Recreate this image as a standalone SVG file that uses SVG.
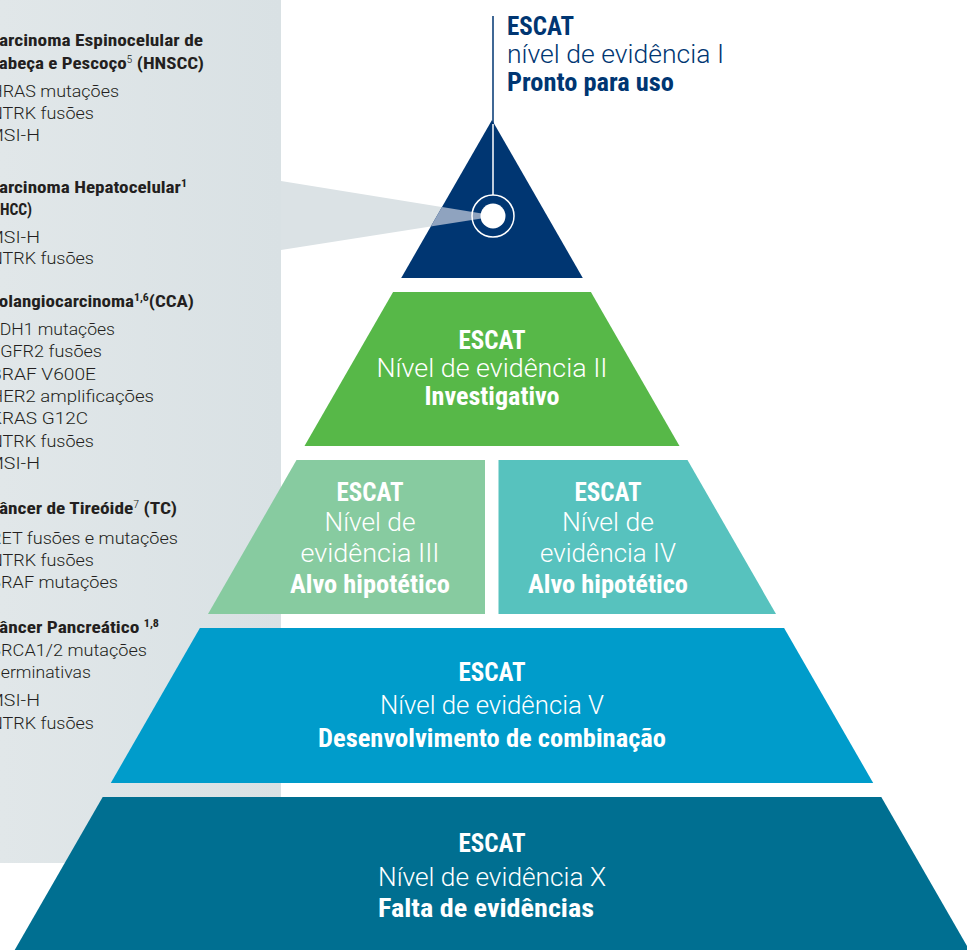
<svg xmlns="http://www.w3.org/2000/svg" width="967" height="950" viewBox="0 0 967 950">
  <defs>
    <style>
      text { font-family: "Roboto Condensed", "Liberation Sans Narrow", "DejaVu Sans Condensed", "Open Sans", sans-serif; font-stretch: condensed; }
      .side { font-family: Roboto, "Liberation Sans", sans-serif; font-stretch: normal; font-size: 17px; font-weight: 300; fill: #231f20; }
      .side-h { font-size: 16px; font-weight: 700; fill: #231f20; }
      .sup { font-size: 10px; }
      .lbl { fill: #ffffff; text-anchor: middle; font-size: 25px; font-weight: 700; }
      .top { fill: #003672; font-size: 25px; font-weight: 700; }
      .thin { font-family: Roboto, "Liberation Sans", sans-serif; font-stretch: normal; font-weight: 300; }
    </style>
    <linearGradient id="panelFill" x1="0" y1="0" x2="1" y2="0">
      <stop offset="0" stop-color="#e1e7e9"/>
      <stop offset="1" stop-color="#d9e1e4"/>
    </linearGradient>
    <clipPath id="apexClip">
      <polygon points="492,120 582.8,278 401.2,278"/>
    </clipPath>
  </defs>

  <!-- side panel with tumour list -->
  <g id="panel">
    <rect x="0" y="0" width="281" height="863" fill="url(#panelFill)"/>
    <g id="hnscc">
      <text class="side-h" x="-12" y="46" textLength="215" lengthAdjust="spacingAndGlyphs">Carcinoma Espinocelular de</text>
      <text class="side-h" x="-12" y="69" textLength="216" lengthAdjust="spacingAndGlyphs">Cabeça e Pescoço<tspan class="sup" font-weight="300" dy="-6">5</tspan><tspan dy="6"> (HNSCC)</tspan></text>
      <text class="side" x="-10" y="97" textLength="129" lengthAdjust="spacingAndGlyphs">HRAS mutações</text>
      <text class="side" x="-10" y="119" textLength="104" lengthAdjust="spacingAndGlyphs">NTRK fusões</text>
      <text class="side" x="-13" y="141" textLength="53" lengthAdjust="spacingAndGlyphs">MSI-H</text>
    </g>
    <g id="hcc">
      <text class="side-h" x="-12" y="193" textLength="199" lengthAdjust="spacingAndGlyphs">Carcinoma Hepatocelular<tspan class="sup" dy="-6">1</tspan></text>
      <text class="side-h" x="-5" y="215" textLength="37" lengthAdjust="spacingAndGlyphs">(HCC)</text>
      <text class="side" x="-13" y="243" textLength="53" lengthAdjust="spacingAndGlyphs">MSI-H</text>
      <text class="side" x="-10" y="264" textLength="104" lengthAdjust="spacingAndGlyphs">NTRK fusões</text>
    </g>
    <g id="cca">
      <text class="side-h" x="-12" y="307" textLength="206" lengthAdjust="spacingAndGlyphs">Colangiocarcinoma<tspan class="sup" dy="-6">1,6</tspan><tspan dy="6">(CCA)</tspan></text>
      <text class="side" x="-5" y="335" textLength="120" lengthAdjust="spacingAndGlyphs">IDH1 mutações</text>
      <text class="side" x="-10" y="357" textLength="112" lengthAdjust="spacingAndGlyphs">FGFR2 fusões</text>
      <text class="side" x="-10" y="380" textLength="106" lengthAdjust="spacingAndGlyphs">BRAF V600E</text>
      <text class="side" x="-10" y="402" textLength="164" lengthAdjust="spacingAndGlyphs">HER2 amplificações</text>
      <text class="side" x="-10" y="424" textLength="98" lengthAdjust="spacingAndGlyphs">KRAS G12C</text>
      <text class="side" x="-10" y="447" textLength="104" lengthAdjust="spacingAndGlyphs">NTRK fusões</text>
      <text class="side" x="-13" y="469" textLength="53" lengthAdjust="spacingAndGlyphs">MSI-H</text>
    </g>
    <g id="tc">
      <text class="side-h" x="-12" y="514" textLength="189" lengthAdjust="spacingAndGlyphs">Câncer de Tireóide<tspan class="sup" font-weight="300" dy="-6">7</tspan><tspan dy="6"> (TC)</tspan></text>
      <text class="side" x="-10" y="544" textLength="188" lengthAdjust="spacingAndGlyphs">RET fusões e mutações</text>
      <text class="side" x="-10" y="566" textLength="104" lengthAdjust="spacingAndGlyphs">NTRK fusões</text>
      <text class="side" x="-10" y="588" textLength="128" lengthAdjust="spacingAndGlyphs">BRAF mutações</text>
    </g>
    <g id="pc">
      <text class="side-h" x="-12" y="633" textLength="171" lengthAdjust="spacingAndGlyphs">Câncer Pancreático <tspan class="sup" dy="-6">1,8</tspan></text>
      <text class="side" x="-10" y="656" textLength="157" lengthAdjust="spacingAndGlyphs">BRCA1/2 mutações</text>
      <text class="side" x="-9" y="678" textLength="100" lengthAdjust="spacingAndGlyphs">germinativas</text>
      <text class="side" x="-13" y="706" textLength="53" lengthAdjust="spacingAndGlyphs">MSI-H</text>
      <text class="side" x="-10" y="729" textLength="104" lengthAdjust="spacingAndGlyphs">NTRK fusões</text>
    </g>
  </g>

  <!-- callout wedge behind the apex -->
  <polygon points="281,181 491,215 491,217 281,250" fill="#dbe2e5"/>

  <!-- pyramid levels -->
  <g id="level-1">
    <polygon points="492,120 582.8,278 401.2,278" fill="#003672"/>
  </g>
  <g id="level-2">
    <polygon points="393.1,292 590.9,292 679.5,446 304.5,446" fill="#57b848"/>
    <text class="lbl" x="492" y="349">ESCAT</text>
    <text class="lbl thin" x="492" y="377" textLength="231" lengthAdjust="spacingAndGlyphs">Nível de evidência II</text>
    <text class="lbl" x="492" y="405" textLength="135" lengthAdjust="spacingAndGlyphs">Investigativo</text>
  </g>
  <g id="level-3">
    <polygon points="296.5,460 485,460 485,614 208,614" fill="#87cba0"/>
    <text class="lbl" x="370" y="501">ESCAT</text>
    <text class="lbl thin" x="370" y="531" textLength="91" lengthAdjust="spacingAndGlyphs">Nível de</text>
    <text class="lbl thin" x="370" y="562" textLength="139" lengthAdjust="spacingAndGlyphs">evidência III</text>
    <text class="lbl" x="370" y="593" textLength="160" lengthAdjust="spacingAndGlyphs">Alvo hipotético</text>
  </g>
  <g id="level-4">
    <polygon points="498.5,460 687.5,460 776,614 498.5,614" fill="#57c2be"/>
    <text class="lbl" x="608" y="501">ESCAT</text>
    <text class="lbl thin" x="608" y="531" textLength="92" lengthAdjust="spacingAndGlyphs">Nível de</text>
    <text class="lbl thin" x="608" y="562" textLength="136" lengthAdjust="spacingAndGlyphs">evidência IV</text>
    <text class="lbl" x="608" y="593" textLength="160" lengthAdjust="spacingAndGlyphs">Alvo hipotético</text>
  </g>
  <g id="level-5">
    <polygon points="199.9,628 784.1,628 873.2,783 110.8,783" fill="#009ccb"/>
    <text class="lbl" x="492" y="681">ESCAT</text>
    <text class="lbl thin" x="492" y="714" textLength="224" lengthAdjust="spacingAndGlyphs">Nível de evidência V</text>
    <text class="lbl" x="492" y="747" textLength="348" lengthAdjust="spacingAndGlyphs">Desenvolvimento de combinação</text>
  </g>
  <g id="level-x">
    <polygon points="102.7,797 881.3,797 969.3,950 14.7,950" fill="#006f91"/>
    <text class="lbl" x="492" y="852">ESCAT</text>
    <text class="lbl thin" x="492" y="886" textLength="228" lengthAdjust="spacingAndGlyphs">Nível de evidência X</text>
    <text class="lbl" x="486" y="917" textLength="216" lengthAdjust="spacingAndGlyphs">Falta de evidências</text>
  </g>

  <!-- leader line, callout and marker -->
  <g id="connectors">
    <polygon points="281,181 491,215 491,217 281,250" fill="#8fa3bf" clip-path="url(#apexClip)"/>
    <line x1="493" y1="16" x2="493" y2="124" stroke="#003672" stroke-width="1.5"/>
    <line x1="493" y1="124" x2="493" y2="195" stroke="#ffffff" stroke-width="1.5"/>
    <circle cx="493" cy="216" r="21" fill="none" stroke="#ffffff" stroke-width="1.5"/>
    <circle cx="493" cy="216" r="12.5" fill="#ffffff"/>
  </g>

  <g id="level-1-label">
    <text class="top" x="507" y="35">ESCAT</text>
    <text class="top thin" x="507" y="63" textLength="217" lengthAdjust="spacingAndGlyphs">nível de evidência I</text>
    <text class="top" x="507" y="91" textLength="167" lengthAdjust="spacingAndGlyphs">Pronto para uso</text>
  </g>
</svg>
